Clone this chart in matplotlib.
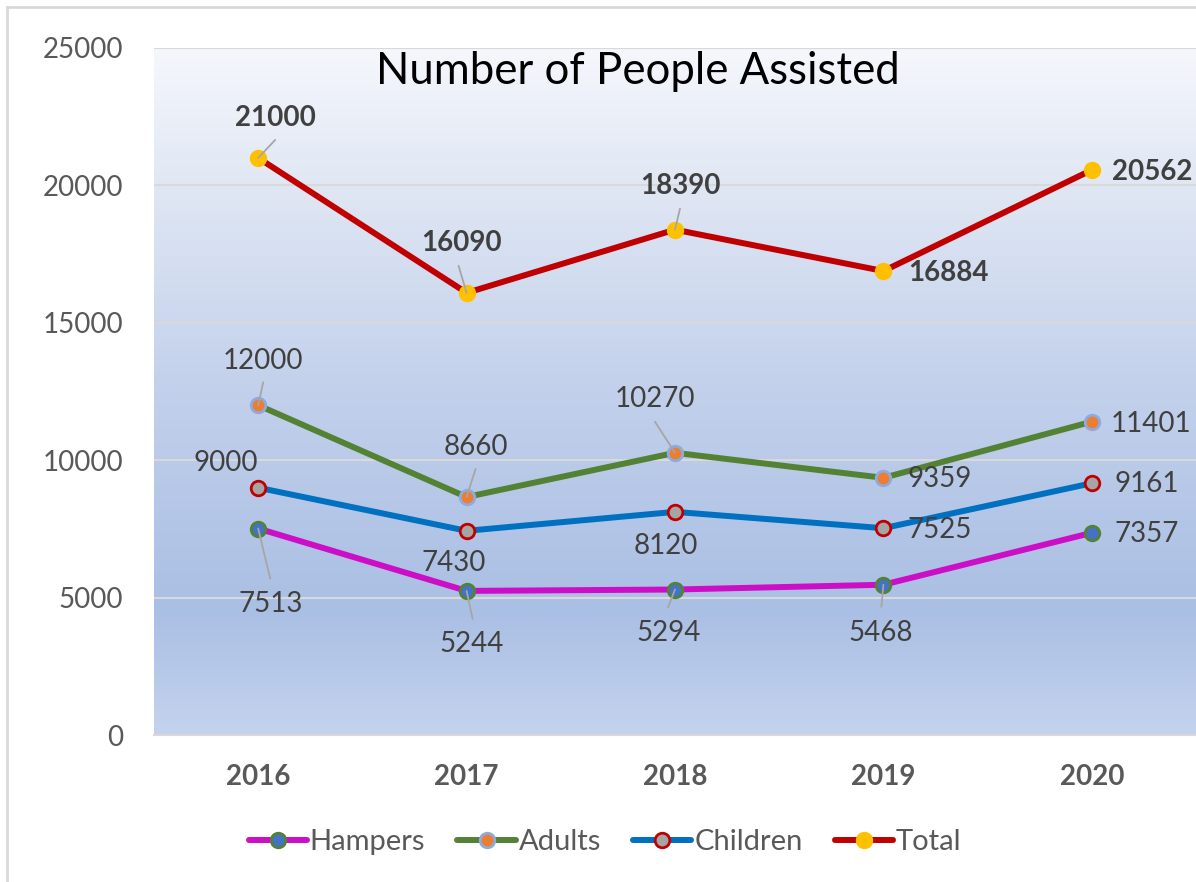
import matplotlib
matplotlib.use('Agg')
import matplotlib.pyplot as plt
from matplotlib.colors import LinearSegmentedColormap
from matplotlib.lines import Line2D
import numpy as np

plt.rcParams['font.family'] = ['Lato', 'DejaVu Sans']

years = ['2016', '2017', '2018', '2019', '2020']
hampers = [7513, 5244, 5294, 5468, 7357]
adults = [12000, 8660, 10270, 9359, 11401]
children = [9000, 7430, 8120, 7525, 9161]
total = [21000, 16090, 18390, 16884, 20562]

# label offsets (pixels, label centre from point) and leader line ends (None = no leader)
total_off = [(17, 40), (-5, 50), (5, 44), (65, -2), (60, -2)]
total_lead = [(17, 18), (-8, 27), (5, 21), None, None]
adults_off = [(5, 44), (9, 50), (-20, 54), (56, -1), (59, -2)]
adults_lead = [(5, 23), (9, 28), (-20, 31), None, None]
children_off = [(-32, 25), (-13, -32), (-9, -34), (56, -2), (55, -1)]
children_lead = [None, None, None, None, None]
hampers_off = [(12, -75), (5, -53), (-6, -43), (-3, -48), (55, -1)]
hampers_lead = [(12, -50), (6, -28), (-7, -18), (-2, -22), None]

W, H = 1196, 882
fig = plt.figure(figsize=(W / 100, H / 100), dpi=100)
ax = fig.add_axes([154 / W, (H - 735) / H, 1042 / W, 687 / H])

# gradient plot area
grad = LinearSegmentedColormap.from_list('bg', [
    (0.0, '#f5f7fc'), (0.2, '#e0e7f4'), (0.5, '#c2d0eb'),
    (0.82, '#aabfe4'), (1.0, '#c4d3ee')])
ax.imshow(np.linspace(0, 1, 256).reshape(-1, 1), cmap=grad, aspect='auto',
          extent=[0, 1, 0, 1], transform=ax.transAxes, zorder=0)

x = np.arange(len(years))
series = [
    ('Hampers', hampers, '#cc0fc6', '#4472c4', '#548235', hampers_off, hampers_lead, 'normal'),
    ('Adults', adults, '#548235', '#ed7d31', '#8faadc', adults_off, adults_lead, 'normal'),
    ('Children', children, '#0070c0', '#a5a5a5', '#c00000', children_off, children_lead, 'normal'),
    ('Total', total, '#c00000', '#ffc000', '#ffc000', total_off, total_lead, 'bold'),
]

for name, vals, lc, mfc, mec, offs, leads, weight in series:
    ax.plot(x, vals, color=lc, lw=4.3, marker='o', ms=10.5, mfc=mfc, mec=mec,
            mew=2, label=name, zorder=3, solid_capstyle='round')
    for i, v in enumerate(vals):
        if leads[i] is not None:
            ax.annotate('', xy=(x[i], v), xytext=leads[i], textcoords='offset pixels',
                        arrowprops=dict(arrowstyle='-', color='#a6a6a6', lw=1.3,
                                        shrinkA=0, shrinkB=0), zorder=4)
        ax.annotate(str(v), xy=(x[i], v), xytext=offs[i], textcoords='offset pixels',
                    ha='center', va='center', fontsize=20, color='#404040',
                    fontweight=weight, zorder=5)

ax.set_xlim(-0.5, 4.5)
ax.set_ylim(0, 25000)
ax.set_yticks(np.arange(0, 25001, 5000))
ax.set_xticks(x)
ax.set_xticklabels(years, fontweight='bold')
ax.tick_params(axis='both', length=0, labelsize=20, labelcolor='#595959')
ax.tick_params(axis='y', pad=22)
ax.tick_params(axis='x', pad=21)
ax.grid(axis='y', color='#d9d9d9', lw=1.5, zorder=1)
for s in ['left', 'right', 'top']:
    ax.spines[s].set_visible(False)
ax.spines['bottom'].set_color('#d9d9d9')
ax.spines['bottom'].set_linewidth(1.5)

fig.text(638 / W, 1 - 72 / H, 'Number of People Assisted', ha='center', va='center',
         fontsize=31.5, color='black')

# chart border (left and top visible)
fig.add_artist(Line2D([7 / W, 7 / W], [0, 1 - 7 / H], color='#d9d9d9', lw=2))
fig.add_artist(Line2D([7 / W, 1], [1 - 7 / H, 1 - 7 / H], color='#d9d9d9', lw=2))

fig.legend(loc='center', bbox_to_anchor=(605 / W, 1 - 842 / H), ncol=4, frameon=False,
           fontsize=21, labelcolor='#595959', handlelength=2.0, handletextpad=0.1,
           columnspacing=1.1)

fig.savefig('out.png', dpi=100)
